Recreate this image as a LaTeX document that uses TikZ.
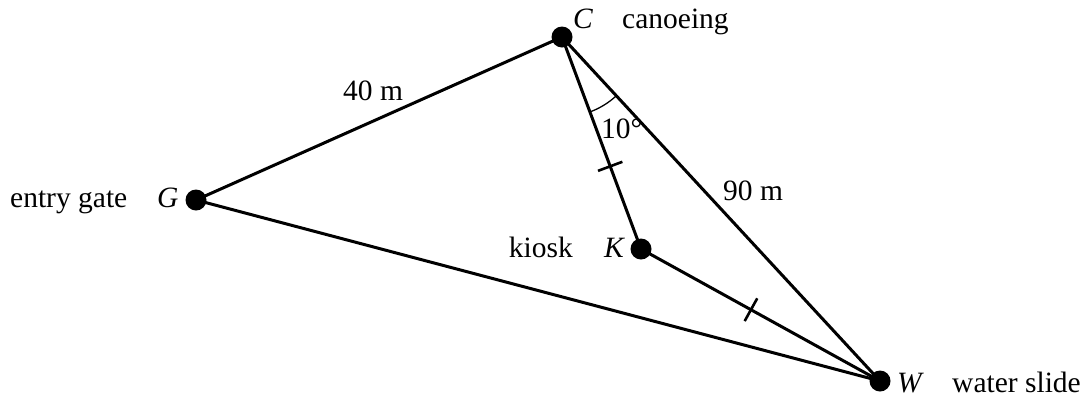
\documentclass[tikz,border=0pt]{standalone}
\usepackage{fontspec}
\setmainfont{Liberation Serif}
\usetikzlibrary{calc}
\begin{document}
\begin{tikzpicture}[x=1pt,y=-1pt,
  dot/.style={circle,fill=black,inner sep=0pt,minimum size=21pt},
  seg/.style={line width=3pt},
  lbl/.style={inner sep=0pt,anchor=base west,font=\fontsize{29.5}{34}\selectfont},
  tickmark/.style={line width=2.6pt}]
\useasboundingbox (0,0) rectangle (1084,400);
\node[dot] (C) at (562,37) {};
\node[dot] (G) at (196,200) {};
\node[dot] (K) at (641,249) {};
\node[dot] (W) at (880,381) {};
\draw[seg] (C.center) -- (G.center) -- (W.center) -- (C.center);
\draw[seg] (C.center) -- (K.center) -- (W.center);
% angle arc
\draw[line width=1.3pt] ($(C.center)!80pt!(K.center)$) arc[start angle=-69.6,end angle=-47.2,radius=80pt];
% ticks
\coordinate (t1) at ($(C.center)!0.61!(K.center)$);
\coordinate (t2) at ($(K.center)!0.46!(W.center)$);
\draw[tickmark] ($(t1)!13pt!90:(K.center)$) -- ($(t1)!13pt!-90:(K.center)$);
\draw[tickmark] ($(t2)!13pt!90:(W.center)$) -- ($(t2)!13pt!-90:(W.center)$);
% labels
\node[lbl] (lC) at (573,28) {\textit{C}};
\node[lbl] (lcan) at (622,28) {canoeing};
\node[lbl] (lentry) at (10,207) {entry gate};
\node[lbl] (lG) at (157,207) {\textit{G}};
\node[lbl,anchor=base east] (lkiosk) at (573,257) {kiosk};
\node[lbl] (lK) at (604,257) {\textit{K}};
\node[lbl] (lW) at (897,392) {\textit{W}};
\node[lbl] (lwater) at (952,392) {water slide};
\node[lbl] (l40) at (343,100) {40 m};
\node[lbl] (l90) at (723,200) {90 m};
\node[lbl] (l10) at (601,138) {10°};
\end{tikzpicture}
\end{document}
